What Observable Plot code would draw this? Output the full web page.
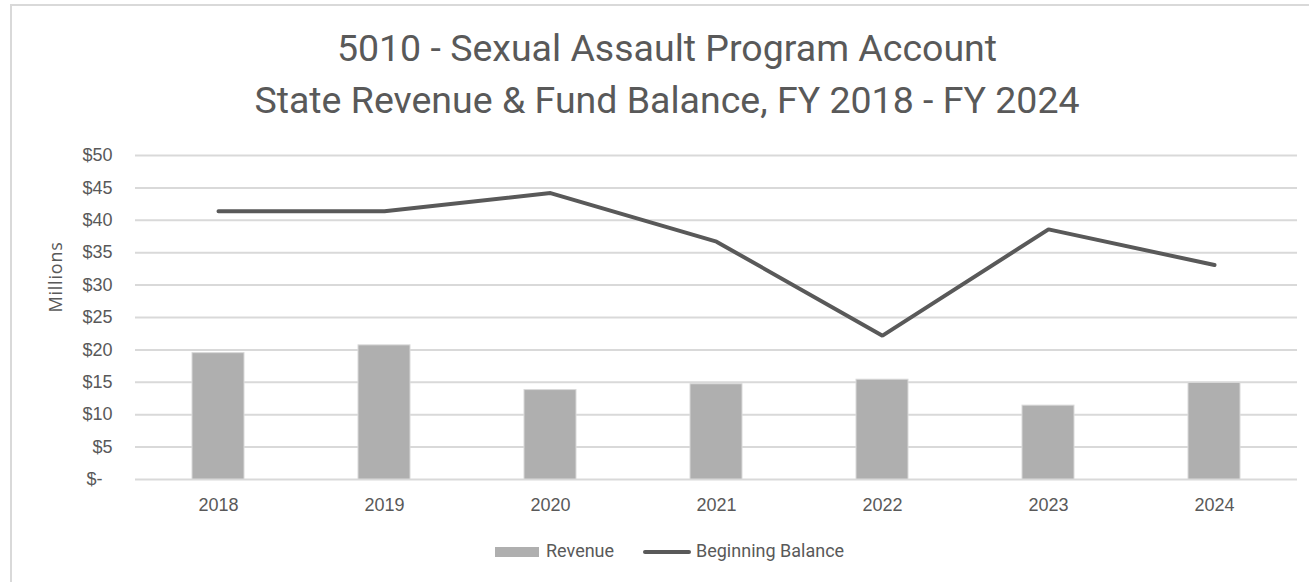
<!DOCTYPE html>
<html>
<head>
<meta charset="utf-8">
<script src="https://cdn.jsdelivr.net/npm/d3@7"></script>
<script src="https://cdn.jsdelivr.net/npm/@observablehq/plot@0.6"></script>
<style>
  html, body { margin: 0; padding: 0; background: #fff; overflow: hidden; }
  body { position: relative; width: 1309px; height: 582px; }
  #frame { position: absolute; left: 10px; top: 4px; width: 1400px; height: 700px; border: 2px solid #d9d9d9; box-sizing: border-box; }
  .title { position: absolute; left: 0; width: 1334px; text-align: center; font-family: Roboto, "Open Sans", sans-serif; font-size: 37.5px; color: #595959; white-space: nowrap; }
  #ylabel { position: absolute; left: 55px; top: 277px; transform: translate(-50%, -50%) rotate(-90deg); font-family: "Open Sans", sans-serif; font-size: 18px; letter-spacing: 0.8px; color: #595959; white-space: nowrap; }
  #chart { position: absolute; left: 0; top: 130px; }
  .leg { position: absolute; font-family: Roboto, "Open Sans", sans-serif; font-size: 18px; color: #595959; white-space: nowrap; }
</style>
</head>
<body>
<div id="frame"></div>
<div class="title" id="t1" style="top:26px"></div>
<div class="title" id="t2" style="top:78px"></div>
<div id="ylabel"></div>
<div id="chart"></div>
<div style="position:absolute;left:495px;top:547px;width:44px;height:10px;background:#afafaf"></div>
<div class="leg" id="leg1" style="left:546px;top:540px"></div>
<div style="position:absolute;left:643px;top:550px;width:48px;height:4px;border-radius:2px;background:#595959"></div>
<div class="leg" id="leg2" style="left:696px;top:540px"></div>
<script>
const titleLines = ["5010 - Sexual Assault Program Account", "State Revenue & Fund Balance, FY 2018 - FY 2024"];
const yAxisLabel = "Millions";
const years = ["2018", "2019", "2020", "2021", "2022", "2023", "2024"];
const revenue = [19.5, 20.7, 13.8, 14.7, 15.4, 11.4, 14.9];
const beginningBalance = [41.4, 41.4, 44.2, 36.7, 22.2, 38.6, 33.1];
const yTicks = [0, 5, 10, 15, 20, 25, 30, 35, 40, 45, 50];
const seriesNames = ["Revenue", "Beginning Balance"];

document.getElementById("t1").textContent = titleLines[0];
document.getElementById("t2").textContent = titleLines[1];
document.getElementById("ylabel").textContent = yAxisLabel;
document.getElementById("leg1").textContent = seriesNames[0];
document.getElementById("leg2").textContent = seriesNames[1];

const data = years.map((y, i) => ({year: y, revenue: revenue[i], balance: beginningBalance[i]}));

const chart = Plot.plot({
  width: 1309,
  height: 399,
  marginTop: 25,
  marginBottom: 50,
  marginLeft: 135,
  marginRight: 12,
  style: {fontFamily: '"Liberation Sans", Arial, sans-serif', fontSize: "18px", color: "#595959", background: "transparent"},
  x: {domain: years, paddingInner: 0.687, paddingOuter: 0.3435, label: null},
  y: {domain: [0, 50], label: null},
  marks: [
    Plot.ruleY(yTicks, {stroke: "#d9d9d9", strokeWidth: 2}),
    Plot.barY(data, {x: "year", y: "revenue", fill: "#afafaf", stroke: "#d9d9d9", strokeWidth: 1}),
    Plot.line(data, {x: "year", y: "balance", stroke: "#595959", strokeWidth: 4, strokeLinecap: "round", strokeLinejoin: "miter"}),
    Plot.axisX({tickSize: 0, tickPadding: 19, fill: "#595959"}),
    Plot.axisY({ticks: yTicks, tickSize: 0, tickPadding: 23, fill: "#595959",
      tickFormat: d => d === 0 ? "$-\u00a0\u00a0" : "$" + d})
  ]
});
document.getElementById("chart").appendChild(chart);
</script>
</body>
</html>
